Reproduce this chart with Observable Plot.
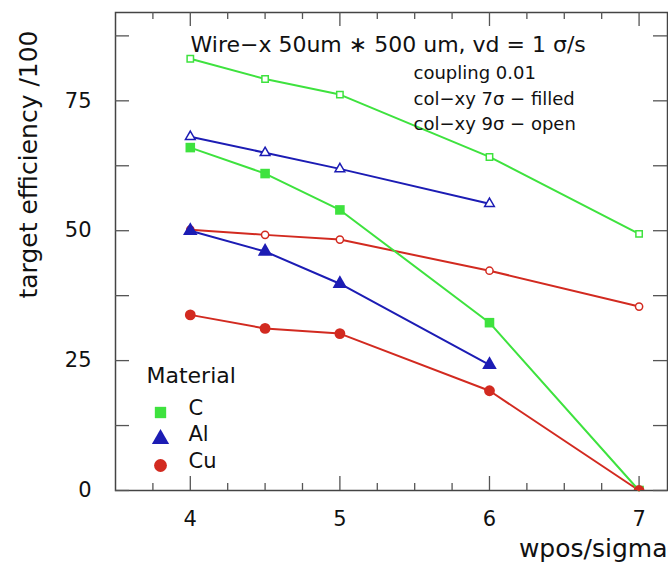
<!DOCTYPE html>
<html><head><meta charset="utf-8">
<script src="https://cdn.jsdelivr.net/npm/d3@7"></script>
<script src="https://cdn.jsdelivr.net/npm/@observablehq/plot@0.6"></script>
<style>body{margin:0;background:#fff;}</style>
</head><body><div id="chart"></div>
<script>
// ---- data ----
const wpos = [4, 4.5, 5, 6, 7];
const materials = ["C", "Al", "Cu"];
const materialColors = ["#3ee23e", "#1c1cb4", "#d22a20"];
const materialSymbols = ["square", "triangle", "circle"];
// col-xy 7 sigma (filled markers)
const C_7sigma  = [66.0, 61.0, 54.0, 32.3, 0];
const Al_7sigma = [50.0, 46.0, 39.8, 24.2];
const Cu_7sigma = [33.8, 31.2, 30.2, 19.2, 0];
// col-xy 9 sigma (open markers)
const C_9sigma  = [83.1, 79.2, 76.2, 64.2, 49.4];
const Al_9sigma = [68.1, 65.0, 61.9, 55.2];
const Cu_9sigma = [50.2, 49.2, 48.3, 42.3, 35.4];
const titleText = "Wire−x 50um ∗ 500 um, vd = 1 σ/s";
const noteLines = ["coupling 0.01", "col−xy 7σ − filled", "col−xy 9σ − open"];
const xTickLabels = [4, 5, 6, 7];
const yTickLabels = [0, 25, 50, 75];
const xLabel = "wpos/sigma";
const yLabel = "target efficiency /100";
const legendTitle = "Material";

// ---- build table ----
function rows(vals, material, collim) {
  return vals.map((v, i) => ({x: wpos[i], y: v, material, collim, series: material + collim}));
}
const filled = [...rows(C_7sigma, "C", "7"), ...rows(Al_7sigma, "Al", "7"), ...rows(Cu_7sigma, "Cu", "7")];
const open = [...rows(C_9sigma, "C", "9"), ...rows(Al_9sigma, "Al", "9"), ...rows(Cu_9sigma, "Cu", "9")];
const all = [...open, ...filled];

// ---- layout ----
const W = 668, H = 570, mL = 115, mR = 1, mT = 12, mB = 80;
const plotW = W - mL - mR, plotH = H - mT - mB;
const majorLen = 14, minorLen = 7;
const xMajor = xTickLabels;
const xMinor = d3.range(3.75, 7.2, 0.25).filter(v => !Number.isInteger(v));
const yTicks = d3.range(0, 90, 12.5);
const tickStroke = "#555";
const font = "DejaVu Sans";

const legendItems = materials.map((m, i) => ({m, i}));

const marks = [
  Plot.frame({stroke: "#444", strokeWidth: 1.5}),
  // inward ticks: bottom, top
  Plot.tickX(xMajor, {x: d => d, insetTop: plotH - majorLen, stroke: tickStroke, strokeWidth: 1.3}),
  Plot.tickX(xMinor, {x: d => d, insetTop: plotH - minorLen, stroke: tickStroke, strokeWidth: 1.3}),
  Plot.tickX(xMajor, {x: d => d, insetBottom: plotH - majorLen, stroke: tickStroke, strokeWidth: 1.3}),
  Plot.tickX(xMinor, {x: d => d, insetBottom: plotH - minorLen, stroke: tickStroke, strokeWidth: 1.3}),
  // inward ticks: left, right
  Plot.tickY(yTicks, {y: d => d, insetRight: plotW - majorLen, stroke: tickStroke, strokeWidth: 1.3}),
  Plot.tickY(yTicks, {y: d => d, insetLeft: plotW - majorLen, stroke: tickStroke, strokeWidth: 1.3}),
  Plot.axisX(xTickLabels, {tickSize: 0, tickPadding: 21, fontSize: 21, label: null, tickFormat: d => String(d)}),
  Plot.axisY(yTickLabels, {tickSize: 0, tickPadding: 24, fontSize: 21, label: null, tickFormat: d => String(d)}),
  // lines
  Plot.line(all, {x: "x", y: "y", z: "series", stroke: "material", strokeWidth: 2}),
  // open markers
  Plot.dot(open, {x: "x", y: "y", symbol: "material", stroke: "material", fill: "white", r: 3.6, strokeWidth: 1.5}),
  // filled markers
  Plot.dot(filled, {x: "x", y: "y", symbol: "material", fill: "material", r: 5.4, clip: true}),
  // title + notes
  Plot.text([titleText], {frameAnchor: "top-left", dx: 75, dy: 24, textAnchor: "start", fontSize: 22, fill: "#111"}),
  Plot.text([noteLines.join("\n")], {frameAnchor: "top-left", dx: 298, dy: 84, textAnchor: "start", lineAnchor: "middle", lineHeight: 1.42, fontSize: 18, fill: "#111"}),
  // axis labels
  Plot.text([yLabel], {frameAnchor: "top-left", dx: -96, dy: 152, rotate: -90, textAnchor: "middle", fontSize: 25, fill: "#111"}),
  Plot.text([xLabel], {frameAnchor: "bottom-right", dx: 0, dy: 66, textAnchor: "end", fontSize: 25, fill: "#111"}),
  // legend
  Plot.text([legendTitle], {frameAnchor: "bottom-left", dx: 31, dy: -108, textAnchor: "start", fontSize: 22, fill: "#111"}),
  ...legendItems.map(({m, i}) => Plot.dot([m], {frameAnchor: "bottom-left", dx: 45, dy: -78 + i * 26.5, symbol: d => d, fill: d => d, r: 6.4})),
  ...legendItems.map(({m, i}) => Plot.text([m], {frameAnchor: "bottom-left", dx: 73, dy: -76 + i * 26.5, textAnchor: "start", fontSize: 21, fill: "#111"}))
];

const chart = Plot.plot({
  width: W, height: H,
  marginLeft: mL, marginRight: mR, marginTop: mT, marginBottom: mB,
  style: {fontFamily: font, background: "white", color: "#111"},
  x: {domain: [3.5, 7.19]},
  y: {domain: [0, 92]},
  color: {domain: materials, range: materialColors},
  symbol: {domain: materials, range: materialSymbols},
  marks
});
document.getElementById("chart").appendChild(chart);
</script>
</body></html>
